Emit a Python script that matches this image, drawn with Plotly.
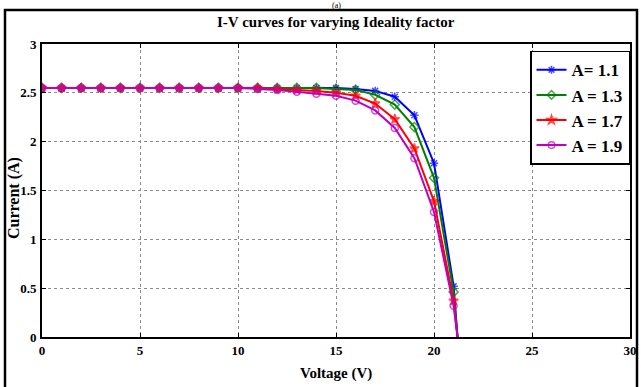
import plotly.graph_objects as go

# Terminal voltage (V); last point is the open-circuit voltage
voltage = list(range(0, 22)) + [21.2]

# Output current (A) for each diode ideality factor
current_a11 = [2.55] * 13 + [2.55, 2.55, 2.55, 2.54, 2.52, 2.46, 2.27, 1.78, 0.52, 0.0]
current_a13 = [2.55] * 13 + [2.55, 2.55, 2.54, 2.53, 2.48, 2.38, 2.15, 1.63, 0.46, 0.0]
current_a17 = [2.55] * 11 + [2.55, 2.54, 2.53, 2.52, 2.50, 2.47, 2.39, 2.23, 1.93, 1.39, 0.37, 0.0]
current_a19 = [2.55] * 11 + [2.54, 2.53, 2.51, 2.49, 2.47, 2.42, 2.32, 2.14, 1.83, 1.28, 0.32, 0.0]

series_names = ["A= 1.1", "A = 1.3", "A = 1.7", "A = 1.9"]
series_colors = ["#0000ff", "#008000", "#ff0000", "#bf00bf"]
series_symbols = ["asterisk-open", "diamond-open", "star", "circle-open"]
series_values = [current_a11, current_a13, current_a17, current_a19]

serif = "Liberation Serif"
fig = go.Figure()

for name, color, symbol, vals in zip(series_names, series_colors, series_symbols, series_values):
    sizes = [7] * (len(vals) - 1) + [0]
    fig.add_trace(go.Scatter(
        x=voltage, y=vals, name=name, mode="lines+markers",
        line=dict(color=color, width=2),
        marker=dict(symbol=symbol, size=sizes, color=color,
                    line=dict(color=color, width=1.5)),
    ))

axis_common = dict(
    showline=True, linecolor="black", linewidth=2, mirror="ticks",
    ticks="inside", ticklen=4, tickcolor="black",
    showgrid=True, gridcolor="#8a8a8a", griddash="dot", gridwidth=1,
    zeroline=False, automargin=False,
    tickfont=dict(family=serif, size=13, color="black", weight="bold"),
)

fig.update_layout(
    width=641, height=387,
    margin=dict(l=42, r=11, t=44, b=50),
    paper_bgcolor="white", plot_bgcolor="white",
    xaxis=dict(range=[0, 30], dtick=5, **axis_common),
    yaxis=dict(range=[0, 3], dtick=0.5, ticklabelstandoff=1, **axis_common),
    legend=dict(x=1.0, xanchor="right", y=0.977, yanchor="top",
                bgcolor="white", bordercolor="black", borderwidth=1.5,
                font=dict(family=serif, size=17, color="black", weight="bold"),
                itemwidth=30, tracegroupgap=0),
    showlegend=True,
)

# Title and axis labels placed in pixel-matched paper coordinates
fig.add_annotation(text="<b>I-V curves for varying Ideality factor</b>",
                   xref="paper", yref="paper", x=0.5, y=(337 - 22) / 293,
                   yanchor="middle", showarrow=False,
                   font=dict(family=serif, size=15, color="black"))
fig.add_annotation(text="<b>Voltage (V)</b>",
                   xref="paper", yref="paper", x=0.5, y=(337 - 374) / 293,
                   yanchor="middle", showarrow=False,
                   font=dict(family=serif, size=15, color="black"))
fig.add_annotation(text="<b>Current (A)</b>", textangle=-90,
                   xref="paper", yref="paper", x=(14 - 42) / 588, y=(337 - 198) / 293,
                   xanchor="center", yanchor="middle", showarrow=False,
                   font=dict(family=serif, size=16, color="black"))

# Outer frame around the figure
fig.add_shape(type="rect", xref="paper", yref="paper",
              x0=-37 / 588, x1=595 / 588, y0=-60 / 293, y1=327 / 293,
              line=dict(color="black", width=2.5), fillcolor="rgba(0,0,0,0)", layer="above")

# Panel label above the frame
fig.add_annotation(text="(a)", xref="paper", yref="paper",
                   x=0.5, y=(337 + 1) / 293, yanchor="top", showarrow=False,
                   font=dict(family=serif, size=8, color="black"))

fig.write_html("out.html")
